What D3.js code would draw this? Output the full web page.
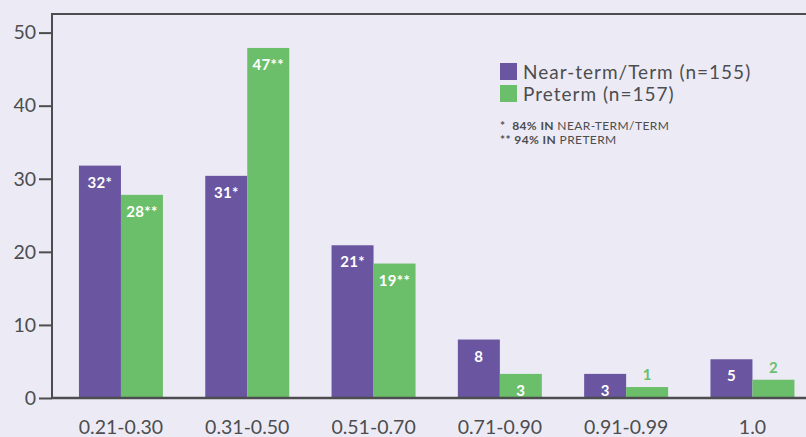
<!DOCTYPE html>
<html>
<head>
<meta charset="utf-8">
<script src="https://cdn.jsdelivr.net/npm/d3@7"></script>
<style>
  body { margin: 0; background: #ecebf5; }
  svg { display: block; font-family: Lato, "Open Sans", sans-serif; }
</style>
</head>
<body>
<div id="chart"></div>
<script>
// data
var categories = ["0.21-0.30", "0.31-0.50", "0.51-0.70", "0.71-0.90", "0.91-0.99", "1.0"];
var termValues = [31.8, 30.4, 20.9, 8.0, 3.3, 5.3];
var pretermValues = [27.8, 47.9, 18.4, 3.3, 1.5, 2.5];
var termLabels = ["32*", "31*", "21*", "8", "3", "5"];
var pretermLabels = ["28**", "47**", "19**", "3", "1", "2"];
var yTicks = [0, 10, 20, 30, 40, 50];
var seriesNames = ["Near-term/Term (n=155)", "Preterm (n=157)"];

var svgWidth = 806;
var svgHeight = 437;
var purple = "#6a55a0";
var green = "#6bbf6a";
var axisColor = "#4d4d4f";

var svg = d3
  .select("#chart")
  .append("svg")
  .attr("width", svgWidth)
  .attr("height", svgHeight);

var axisX = 52;
var axisTop = 14;
var axisBottom = 398;

var yScale = d3.scaleLinear().domain([0, 50]).range([axisBottom, 32.6]);

var xScale = d3
  .scaleBand()
  .domain(categories)
  .range([57.8, 815.6])
  .paddingInner(0.335)
  .paddingOuter(0.1675);

var subScale = d3
  .scaleBand()
  .domain([0, 1])
  .range([0, xScale.bandwidth()]);

// frame lines
svg.append("line")
  .attr("x1", axisX).attr("x2", svgWidth)
  .attr("y1", axisTop).attr("y2", axisTop)
  .attr("stroke", axisColor).attr("stroke-width", 2);

// bars
var rows = categories.map(function (c, i) {
  return [
    { cat: c, s: 0, v: termValues[i], label: termLabels[i] },
    { cat: c, s: 1, v: pretermValues[i], label: pretermLabels[i] },
  ];
});
var flat = [].concat.apply([], rows);

svg.selectAll("rect.bar")
  .data(flat)
  .enter()
  .append("rect")
  .attr("class", "bar")
  .attr("x", (d) => xScale(d.cat) + subScale(d.s))
  .attr("y", (d) => yScale(d.v))
  .attr("width", subScale.bandwidth())
  .attr("height", (d) => yScale(0) - yScale(d.v))
  .attr("fill", (d) => (d.s === 0 ? purple : green));

// value labels: inside bar if tall enough, else above in green
svg.selectAll("text.val")
  .data(flat)
  .enter()
  .append("text")
  .attr("class", "val")
  .attr("x", (d) => xScale(d.cat) + subScale(d.s) + subScale.bandwidth() / 2)
  .attr("y", function (d) {
    var inside = yScale(0) - yScale(d.v) > 20;
    return inside ? yScale(d.v) + 22 : yScale(d.v) - 7;
  })
  .attr("text-anchor", "middle")
  .attr("font-size", "15px")
  .attr("font-weight", "bold")
  .attr("letter-spacing", "0.3px")
  .attr("fill", function (d) {
    return yScale(0) - yScale(d.v) > 20 ? "#ffffff" : green;
  })
  .text((d) => d.label);

// y axis
var yAxis = svg.append("g")
  .attr("transform", `translate(${axisX}, 0)`)
  .call(d3.axisLeft(yScale).tickValues(yTicks).tickSize(13).tickPadding(3));
yAxis.select(".domain").remove();
yAxis.selectAll("line").attr("stroke", axisColor).attr("stroke-width", 2);
yAxis.selectAll("text")
  .attr("fill", axisColor)
  .attr("font-size", "19.5px")
  .attr("font-family", "Lato, sans-serif");

svg.append("line")
  .attr("x1", axisX).attr("x2", axisX)
  .attr("y1", axisTop - 1).attr("y2", axisBottom + 1)
  .attr("stroke", axisColor).attr("stroke-width", 2);

// x axis
var xAxis = svg.append("g")
  .attr("transform", `translate(0, ${axisBottom})`)
  .call(d3.axisBottom(xScale).tickSize(0).tickPadding(22));
xAxis.select(".domain").remove();
xAxis.selectAll("text")
  .attr("fill", axisColor)
  .attr("font-size", "19.5px")
  .attr("font-family", "Lato, sans-serif");

svg.append("line")
  .attr("x1", axisX).attr("x2", svgWidth)
  .attr("y1", axisBottom).attr("y2", axisBottom)
  .attr("stroke", axisColor).attr("stroke-width", 2.5);

// legend
var legend = svg.append("g").attr("transform", "translate(500, 63)");
seriesNames.forEach(function (name, i) {
  legend.append("rect")
    .attr("x", 0).attr("y", i * 22)
    .attr("width", 17).attr("height", 17)
    .attr("fill", i === 0 ? purple : green);
  legend.append("text")
    .attr("x", 23).attr("y", i * 22 + 15.5)
    .attr("font-size", "19px")
    .attr("letter-spacing", "1px")
    .attr("fill", axisColor)
    .text(name);
});

var notes = [
  ["*  ", "84% IN ", "NEAR-TERM/TERM"],
  ["** ", "94% IN ", "PRETERM"],
];
notes.forEach(function (n, i) {
  var t = legend.append("text")
    .attr("x", 0).attr("y", 67 + i * 14)
    .attr("font-size", "12px")
    .attr("letter-spacing", "0.4px")
    .attr("fill", axisColor)
    .attr("xml:space", "preserve");
  t.append("tspan").attr("font-weight", "bold").text(n[0]);
  t.append("tspan").attr("font-weight", "bold").text(n[1]);
  t.append("tspan").text(n[2]);
});
</script>
</body>
</html>
